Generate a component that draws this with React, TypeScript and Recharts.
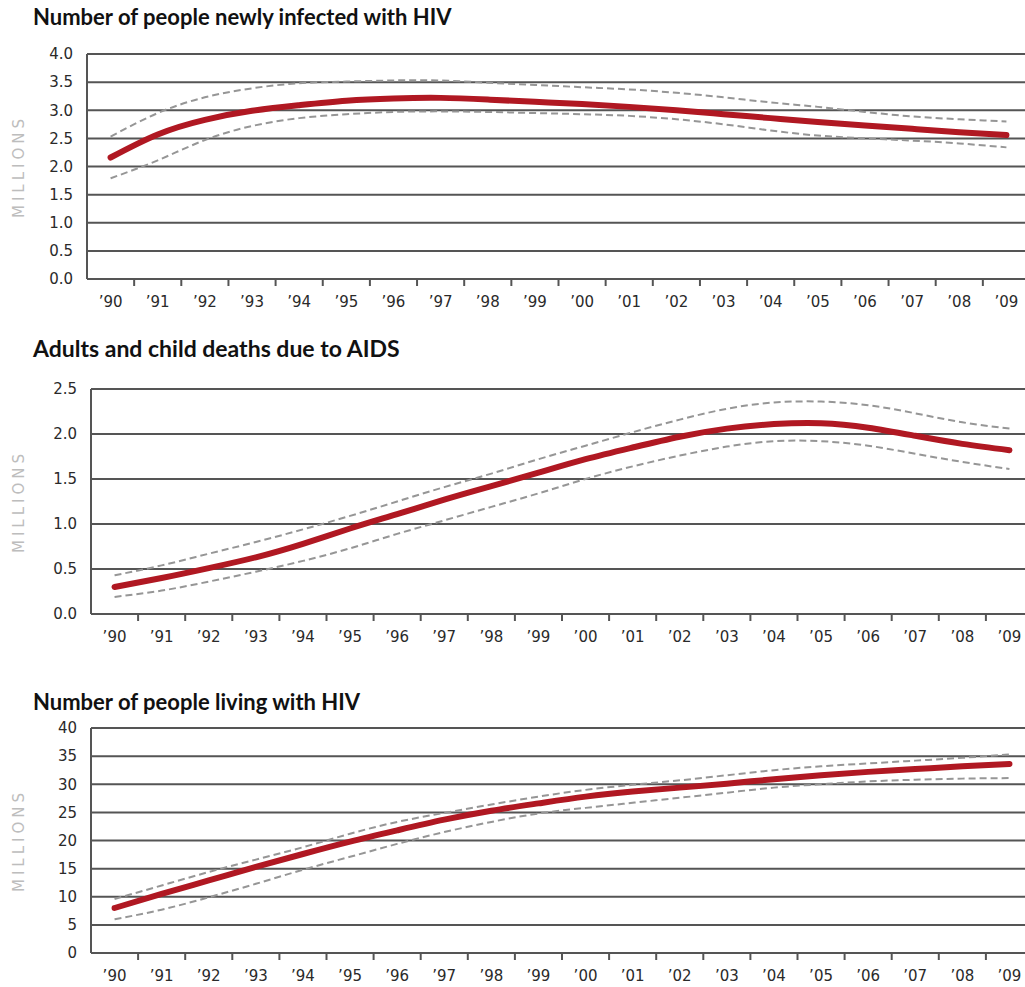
import React from "react";
import { LineChart, Line, XAxis, YAxis, CartesianGrid } from "recharts";

// Years shown on every panel
const YEARS = [
  1990, 1991, 1992, 1993, 1994, 1995, 1996, 1997, 1998, 1999,
  2000, 2001, 2002, 2003, 2004, 2005, 2006, 2007, 2008, 2009,
];

// Tick marks sit on the boundaries between years
const YEAR_BOUNDARIES = [
  1990.5, 1991.5, 1992.5, 1993.5, 1994.5, 1995.5, 1996.5, 1997.5, 1998.5, 1999.5,
  2000.5, 2001.5, 2002.5, 2003.5, 2004.5, 2005.5, 2006.5, 2007.5, 2008.5,
];

// Newly infected with HIV (millions): estimate and range
const NEW_INFECTIONS = [
  2.16, 2.57, 2.83, 2.99, 3.09, 3.17, 3.21, 3.22, 3.19, 3.15,
  3.11, 3.06, 3.0, 2.93, 2.86, 2.79, 2.73, 2.67, 2.61, 2.56,
];
const NEW_INFECTIONS_HIGH = [
  2.53, 2.95, 3.23, 3.39, 3.48, 3.51, 3.53, 3.53, 3.49, 3.45,
  3.41, 3.37, 3.31, 3.23, 3.14, 3.06, 2.97, 2.89, 2.84, 2.8,
];
const NEW_INFECTIONS_LOW = [
  1.79, 2.11, 2.47, 2.72, 2.86, 2.93, 2.97, 2.98, 2.97, 2.95,
  2.93, 2.9, 2.84, 2.75, 2.64, 2.55, 2.5, 2.46, 2.41, 2.34,
];

// AIDS deaths, adults and children (millions)
const DEATHS = [
  0.3, 0.4, 0.51, 0.63, 0.78, 0.95, 1.11, 1.27, 1.42, 1.57,
  1.72, 1.85, 1.97, 2.06, 2.11, 2.12, 2.07, 1.98, 1.89, 1.82,
];
const DEATHS_HIGH = [
  0.43, 0.54, 0.67, 0.8, 0.94, 1.09, 1.25, 1.41, 1.56, 1.72,
  1.87, 2.02, 2.16, 2.28, 2.35, 2.36, 2.32, 2.23, 2.13, 2.06,
];
const DEATHS_LOW = [
  0.19, 0.26, 0.36, 0.47, 0.59, 0.73, 0.89, 1.04, 1.19, 1.34,
  1.5, 1.64, 1.76, 1.86, 1.92, 1.92, 1.87, 1.78, 1.69, 1.61,
];

// People living with HIV (millions)
const LIVING = [
  8.0, 10.5, 12.9, 15.3, 17.6, 19.8, 21.8, 23.7, 25.3, 26.6,
  27.8, 28.7, 29.4, 30.1, 30.9, 31.6, 32.2, 32.7, 33.2, 33.6,
];
const LIVING_HIGH = [
  9.6, 12.0, 14.4, 16.6, 18.8, 21.2, 23.3, 24.9, 26.4, 27.8,
  29.0, 29.9, 30.7, 31.6, 32.5, 33.2, 33.7, 34.2, 34.7, 35.3,
];
const LIVING_LOW = [
  6.0, 7.7, 9.9, 12.3, 14.8, 17.1, 19.4, 21.5, 23.3, 24.8,
  25.8, 26.7, 27.6, 28.5, 29.4, 30.0, 30.5, 30.8, 31.0, 31.1,
];

const TICKS_0_4 = [0, 0.5, 1, 1.5, 2, 2.5, 3, 3.5, 4];
const TICKS_0_25 = [0, 0.5, 1, 1.5, 2, 2.5];
const TICKS_0_40 = [0, 5, 10, 15, 20, 25, 30, 35, 40];

const GRID = "#555555";
const TEXT = "#2a2a2a";
const RED = "#b01822";
const RANGE = "#969696";

const X_TICKS = [...YEARS, ...YEAR_BOUNDARIES].sort((a, b) => a - b);

function YearTick(props: any) {
  const { x, y, payload } = props;
  const v = payload.value as number;
  if (Number.isInteger(v)) {
    return (
      <text
        x={x}
        y={y + 20}
        textAnchor="middle"
        fill={TEXT}
        fontSize={15}
        fontFamily="DejaVu Sans"
      >
        {"\u2019" + String(v).slice(2)}
      </text>
    );
  }
  return <line x1={x} x2={x} y1={y - 8} y2={y - 1} stroke={GRID} strokeWidth={2} />;
}

function MillionsLabel(props: any) {
  const { viewBox } = props;
  const cx = 19;
  const cy = viewBox.y + viewBox.height / 2;
  return (
    <text
      x={cx}
      y={cy}
      transform={`rotate(-90 ${cx} ${cy})`}
      textAnchor="middle"
      dominantBaseline="central"
      fill="#bdbdbd"
      fontSize={15}
      fontFamily="DejaVu Sans"
      letterSpacing={4}
    >
      MILLIONS
    </text>
  );
}

type PanelProps = {
  title: string;
  titleCenter: number;
  titleSize: number;
  plotTop: number;
  plotLeft: number;
  plotWidth: number;
  yTicks: number[];
  decimals: number;
  main: number[];
  high: number[];
  low: number[];
};

function Panel(p: PanelProps) {
  const data = YEARS.map((year, i) => ({
    year,
    est: p.main[i],
    high: p.high[i],
    low: p.low[i],
  }));
  const marginTop = 14;
  const xAxisHeight = 40;
  const plotHeight = 225;
  const top = p.plotTop - marginTop;
  const height = marginTop + plotHeight + xAxisHeight;
  const yMax = p.yTicks[p.yTicks.length - 1];
  return (
    <>
      <div
        style={{
          position: "absolute",
          left: 33,
          top: p.titleCenter - 13,
          lineHeight: "26px",
          fontFamily: "Lato",
          fontWeight: 700,
          fontSize: p.titleSize,
          color: "#111",
          whiteSpace: "nowrap",
        }}
      >
        {p.title}
      </div>
      <div style={{ position: "absolute", left: 0, top }}>
        <LineChart
          width={p.plotLeft + p.plotWidth}
          height={height}
          data={data}
          margin={{ top: marginTop, right: 0, bottom: 0, left: 0 }}
        >
          <CartesianGrid vertical={false} stroke={GRID} strokeWidth={2} />
          <XAxis
            dataKey="year"
            type="number"
            domain={[1989.5, 2009.5]}
            ticks={X_TICKS}
            interval={0}
            height={xAxisHeight}
            tickLine={false}
            axisLine={{ stroke: GRID, strokeWidth: 2 }}
            tick={<YearTick />}
          />
          <YAxis
            type="number"
            domain={[0, yMax]}
            ticks={p.yTicks}
            interval={0}
            width={p.plotLeft}
            tickLine={false}
            tickSize={6}
            tickMargin={8}
            axisLine={{ stroke: GRID, strokeWidth: 2 }}
            tick={{ fill: TEXT, fontSize: 15, fontFamily: "DejaVu Sans" }}
            tickFormatter={(v: number) => v.toFixed(p.decimals)}
            label={<MillionsLabel />}
          />
          <Line
            dataKey="high"
            type="natural"
            stroke={RANGE}
            strokeWidth={2}
            strokeDasharray="7 4"
            dot={false}
            activeDot={false}
            isAnimationActive={false}
          />
          <Line
            dataKey="low"
            type="natural"
            stroke={RANGE}
            strokeWidth={2}
            strokeDasharray="7 4"
            dot={false}
            activeDot={false}
            isAnimationActive={false}
          />
          <Line
            dataKey="est"
            type="natural"
            stroke={RED}
            strokeWidth={6}
            strokeLinecap="round"
            dot={false}
            activeDot={false}
            isAnimationActive={false}
          />
        </LineChart>
      </div>
    </>
  );
}

export default function App() {
  return (
    <div
      style={{
        position: "absolute",
        left: 0,
        top: 0,
        width: 1025,
        height: 987,
        overflow: "hidden",
        background: "#fff",
      }}
    >
      <Panel
        title="Number of people newly infected with HIV"
        titleCenter={17}
        titleSize={22}
        plotTop={54}
        plotLeft={87}
        plotWidth={943}
        yTicks={TICKS_0_4}
        decimals={1}
        main={NEW_INFECTIONS}
        high={NEW_INFECTIONS_HIGH}
        low={NEW_INFECTIONS_LOW}
      />
      <Panel
        title="Adults and child deaths due to AIDS"
        titleCenter={348}
        titleSize={23}
        plotTop={389}
        plotLeft={91}
        plotWidth={942}
        yTicks={TICKS_0_25}
        decimals={1}
        main={DEATHS}
        high={DEATHS_HIGH}
        low={DEATHS_LOW}
      />
      <Panel
        title="Number of people living with HIV"
        titleCenter={702}
        titleSize={22}
        plotTop={728}
        plotLeft={91}
        plotWidth={942}
        yTicks={TICKS_0_40}
        decimals={0}
        main={LIVING}
        high={LIVING_HIGH}
        low={LIVING_LOW}
      />
    </div>
  );
}
